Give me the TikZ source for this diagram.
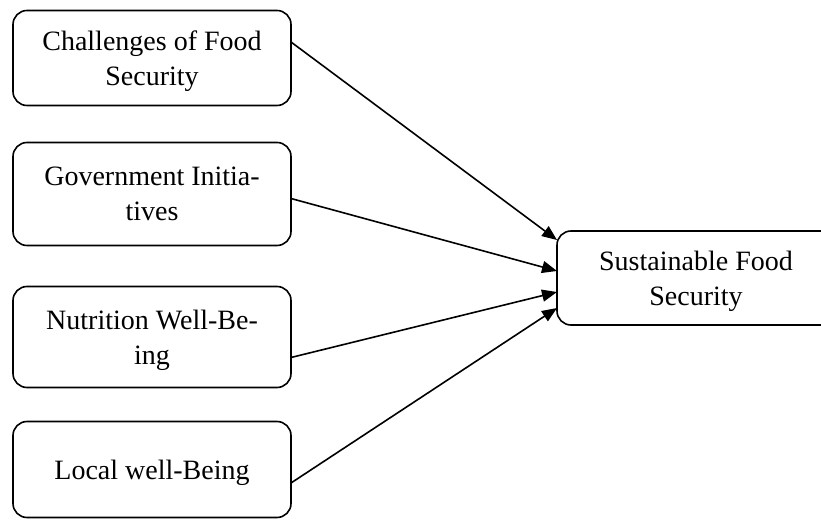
\documentclass[tikz,border=0pt]{standalone}
\usepackage{fontspec}
\setmainfont{Liberation Serif}
\usepackage{tikz}
\usetikzlibrary{arrows.meta, positioning}

\begin{document}
\begin{tikzpicture}[
  x=1pt, y=1pt,
  factbox/.style={rectangle, rounded corners=14pt, draw=black, line width=1.6pt,
               minimum width=278pt, minimum height=96pt, outer sep=0pt, align=center,
               text depth=-4pt, font=\fontsize{28}{35}\selectfont},
  arr/.style={-{Triangle[length=15pt, width=12pt]}, line width=1.6pt, color=black}
]
\clip (0,0) rectangle (821,519);
\node[factbox, minimum height=95pt] (challenges) at (152,461) {Challenges of Food\\Security};
\node[factbox, minimum height=103pt, below=37pt of challenges] (government) {Government Initia-\\tives};
\node[factbox, minimum height=101pt, below=41pt of government] (nutrition) {Nutrition Well-Be-\\ing};
\node[factbox, minimum height=96pt, below=34pt of nutrition] (local) {Local well-Being};
\node[factbox, minimum height=94pt] (sustain) at (696,241) {Sustainable Food\\Security};
\draw[arr] ([yshift=16pt]challenges.east)   -- ([yshift=38pt]sustain.west);
\draw[arr] ([yshift=-4.5pt]government.east) -- ([yshift=7pt]sustain.west);
\draw[arr] ([yshift=-20.5pt]nutrition.east) -- ([yshift=-14pt]sustain.west);
\draw[arr] ([yshift=-13.5pt]local.east)     -- ([yshift=-30pt]sustain.west);
\end{tikzpicture}
\end{document}
